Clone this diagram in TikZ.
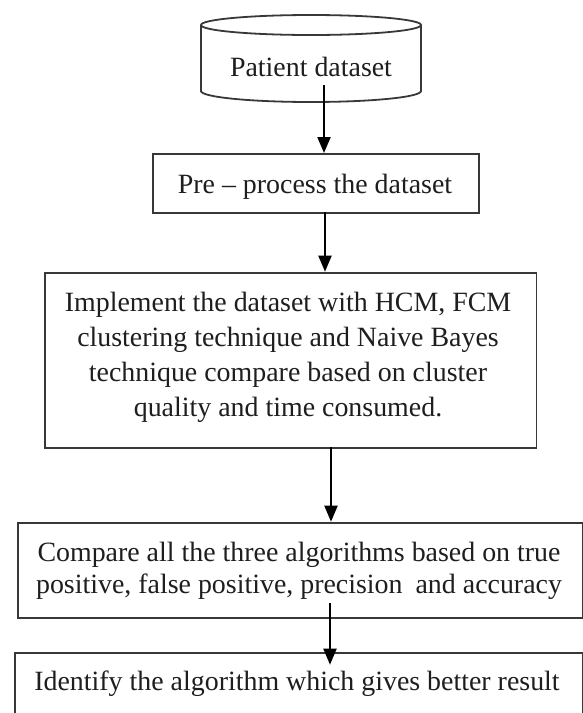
\documentclass[tikz,border=0pt]{standalone}
\usepackage{fontspec}
\setmainfont{Liberation Serif}
\usetikzlibrary{arrows.meta}
\definecolor{boxc}{HTML}{383838}
\definecolor{txtc}{HTML}{1E1E1E}
\begin{document}
\begin{tikzpicture}[x=1pt,y=-1pt,
  boxline/.style={draw=boxc, line width=1.8pt},
  box/.style={boxline, rectangle, inner sep=0pt, anchor=north west},
  arr/.style={draw=black, line width=2pt, -{Triangle[length=16pt,width=13pt]}},
  txt/.style={text=txtc, align=center, inner sep=0pt, font=\fontsize{27.9}{35}\selectfont}
]
\useasboundingbox (0,0) rectangle (583,713);
\fill[white] (0,0) rectangle (583,713);

% cylinder
\draw[boxline] (201,25) -- (201,91) arc[start angle=180, end angle=0, x radius=110, y radius=11] -- (421,25);
\draw[boxline, fill=white] (311,25) ellipse [x radius=110, y radius=10];
\node[txt, anchor=base] (db) at (311,76) {Patient dataset};

% boxes
\node[box, minimum width=326pt, minimum height=59pt] (pre) at (152,153) {};
\node[txt, anchor=base] (pret) at (315,193.3) {Pre -- process the dataset};

\node[box, minimum width=491.5pt, minimum height=175.6pt] (imp) at (44,271.7) {};
\node[txt, font=\fontsize{27.9}{35}\selectfont] (impt) at (288,357.7) {Implement the dataset with HCM, FCM\\
clustering technique and Naive Bayes\\
technique compare based on cluster\\
quality and time consumed.};

\node[box, minimum width=565.3pt, minimum height=95pt] (cmp) at (16.7,521.7) {};
\node[txt, font=\fontsize{27.9}{31.7}\selectfont] (cmpt) at (299,571) {Compare all the three algorithms based on true\\
positive, false positive, precision\hspace{6pt} and accuracy};

\node[box, minimum width=568pt, minimum height=62pt] (idf) at (14,651.7) {};
\node[txt, anchor=base] (idft) at (297,690) {Identify the algorithm which gives better result};

% connectors
\coordinate (a1) at (324,85);
\draw[arr] (a1) -- (a1 |- pre.north);
\coordinate (a2) at (325,212);
\draw[arr] (a2) -- (a2 |- imp.north);
\coordinate (a3) at (331,447.3);
\draw[arr] (a3) -- (a3 |- cmp.north);
\coordinate (a4) at (330,603);
\draw[arr, shorten >=-13pt] (a4) -- (a4 |- idf.north);
\end{tikzpicture}
\end{document}
